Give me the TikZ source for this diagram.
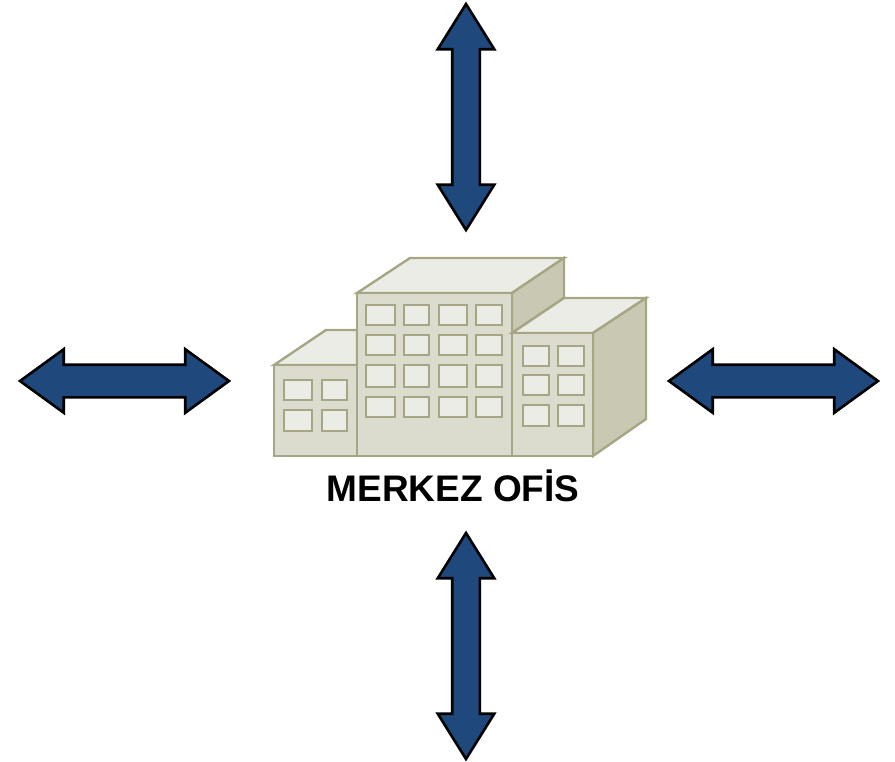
\documentclass[tikz,border=0pt]{standalone}
\usepackage{fontspec}
\setmainfont{Liberation Sans}
\usetikzlibrary{shapes.arrows}
\definecolor{arrowblue}{HTML}{1F497D}
\definecolor{wallline}{HTML}{A6A684}
\definecolor{wallfront}{HTML}{DCDCCE}
\definecolor{walltop}{HTML}{EBECE6}
\definecolor{wallside}{HTML}{C9C9B3}
\tikzset{
	wallpart/.style={draw=wallline,line width=2.4pt,line join=miter},
	windowbox/.style={draw=wallline,line width=2.4pt,fill=walltop},
	vertarrow/.style={double arrow,rotate=90,draw=black,line width=2.6pt,fill=arrowblue,inner sep=0pt,inner ysep=12.5pt,outer sep=0pt,double arrow head extend=14.5pt,double arrow tip angle=64,minimum height=226pt,text width=0pt},
	horizarrow/.style={double arrow,draw=black,line width=2.6pt,fill=arrowblue,inner sep=0pt,inner ysep=15pt,outer sep=0pt,double arrow head extend=15.5pt,double arrow tip angle=72,minimum height=209pt,text width=0pt}
}
\begin{document}
\begin{tikzpicture}[x=1pt,y=-1pt]
	\useasboundingbox (0,0) rectangle (895,762);
	\node (arrowtop)[vertarrow] at (466,117){};
	\node (arrowbottom)[vertarrow] at (466,646){};
	\node (arrowleft)[horizarrow] at (124.5,381){};
	\node (arrowright)[horizarrow] at (773.5,381){};
	\draw[wallpart,fill=walltop] (274,365) -- (326,330) -- (357,330) -- (357,365) -- cycle;
	\draw[wallpart,fill=wallfront] (274,365) rectangle (357,456);
	\draw[wallpart,fill=walltop] (357,293) -- (410,258) -- (564,258) -- (512,293) -- cycle;
	\draw[wallpart,fill=wallside] (512,293) -- (564,258) -- (564,298) -- (512,333) -- cycle;
	\draw[wallpart,fill=wallfront] (357,293) rectangle (512,456);
	\draw[wallpart,fill=walltop] (512,333) -- (564,298) -- (646,298) -- (593,333) -- cycle;
	\draw[wallpart,fill=wallside] (593,333) -- (646,298) -- (646,419) -- (593,456) -- cycle;
	\draw[wallpart,fill=wallfront] (512,333) rectangle (593,456);
	\foreach \ya/\yb in {380/400,410/431}{
		\foreach \xa/\xb in {284/312,322/347}{
			\draw[windowbox] (\xa,\ya) rectangle (\xb,\yb);
		}
	}
	\foreach \ya/\yb in {305/325,335/355,365/387,397/417}{
		\foreach \xa/\xb in {366/395,404/429,439/467,476/502}{
			\draw[windowbox] (\xa,\ya) rectangle (\xb,\yb);
		}
	}
	\foreach \ya/\yb in {346/366,375/395,405/426}{
		\foreach \xa/\xb in {523/549,558/584}{
			\draw[windowbox] (\xa,\ya) rectangle (\xb,\yb);
		}
	}
	\node (officename)[font=\fontsize{37}{41}\selectfont\bfseries] at (453,486){MERKEZ OFİS};
\end{tikzpicture}
\end{document}
